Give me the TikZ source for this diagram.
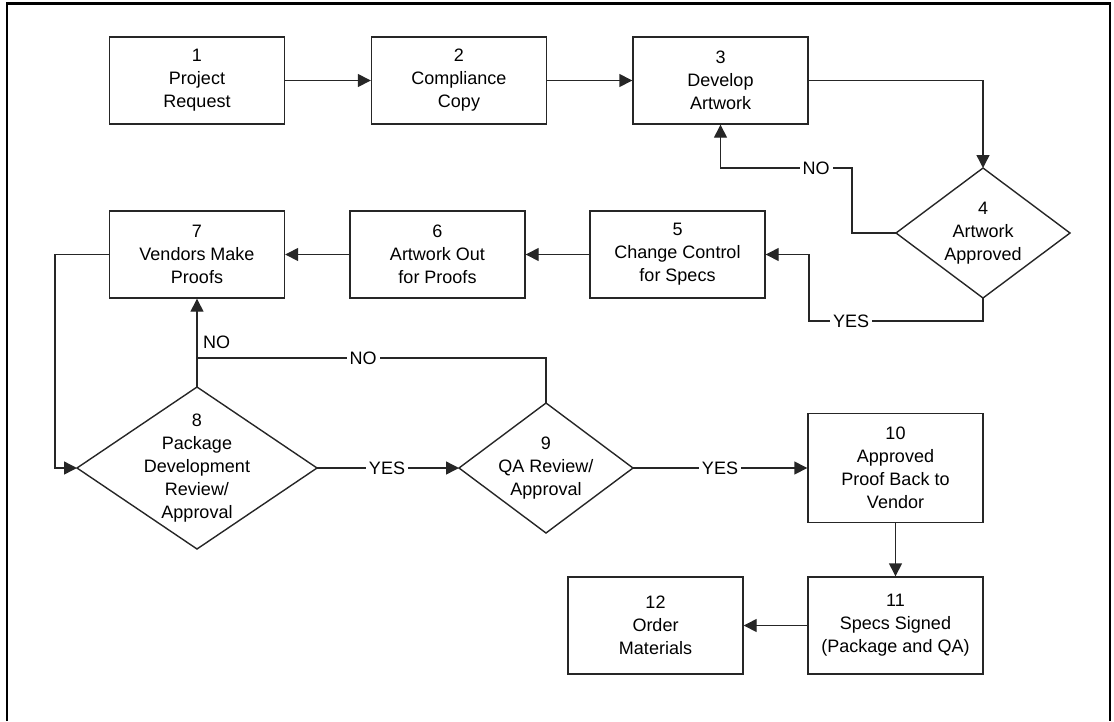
\documentclass[tikz,border=0pt]{standalone}
\usepackage{fontspec}
\setmainfont{Liberation Sans}
\usetikzlibrary{shapes.geometric,arrows.meta}
\begin{document}
\begin{tikzpicture}[x=1pt,y=-1pt,
  font=\fontsize{18}{23}\selectfont,
  every node/.style={text=black},
  stepbox/.style={draw=black!85, line width=1.4pt, rectangle, minimum width=175pt, inner sep=0pt, align=center},
  decision/.style={draw=black!85, line width=1.4pt, shape=diamond, inner sep=0pt, outer sep=0pt},
  conn/.style={draw=black!85, line width=1.4pt},
  arr/.style={conn, -{Triangle[length=13pt,width=13pt]}},
  lbl/.style={fill=white, inner sep=3pt}
]
\useasboundingbox (0,0) rectangle (1114,721);
% outer frame (open at the bottom)
\draw[line width=2.8pt, black] (7,721) -- (7,3.3) -- (1110,3.3) -- (1110,721);

% process boxes
\node[stepbox, minimum height=87pt] (b1) at (197,80.5) {1\\Project\\Request};
\node[stepbox, minimum height=87pt] (b2) at (459,80.5) {2\\Compliance\\Copy};
\node[stepbox, minimum height=87pt] (b3) at (720.5,80.5) {3\\Develop\\Artwork};
\node[decision, minimum width=174pt, minimum height=130pt,
      label={[align=center]center:{4\\Artwork\\Approved}}] (d4) at (983,233) {};
\node[stepbox, minimum height=87pt] (b5) at (677.5,254.5) {5\\Change Control\\for Specs};
\node[stepbox, minimum height=87pt] (b6) at (437.5,254.5) {6\\Artwork Out\\for Proofs};
\node[stepbox, minimum height=87pt] (b7) at (197,254.5) {7\\Vendors Make\\Proofs};
\node[decision, minimum width=240pt, minimum height=162pt,
      label={[align=center]center:{8\\Package\\Development\\Review/\\Approval}}] (d8) at (197,468) {};
\node[decision, minimum width=174pt, minimum height=130pt,
      label={[align=center]center:{9\\QA Review/\\Approval}}] (d9) at (546,468) {};
\node[stepbox, minimum height=109pt] (b10) at (895.5,468) {10\\Approved\\Proof Back to\\Vendor};
\node[stepbox, minimum height=97pt] (b11) at (895.5,625.5) {11\\Specs Signed\\(Package and QA)};
\node[stepbox, minimum height=97pt] (b12) at (655.5,625.5) {12\\Order\\Materials};

% helper coordinates for bends
\coordinate (c4no) at (852,168);
\coordinate (c4yes) at (809,321);
\coordinate (loopx) at (55,360);
\coordinate (j89) at (197,358);

% connectors
\draw[arr] (b1.east) -- (b2.west);
\draw[arr] (b2.east) -- (b3.west);
\draw[arr] (b3.east) -| (d4.north);
\draw[arr] (d4.west) -| (c4no) -| (b3.south);
\draw[arr] (d4.south) |- (c4yes) |- (b5.east);
\draw[arr] (b5.west) -- (b6.east);
\draw[arr] (b6.west) -- (b7.east);
\draw[arr] (b7.west) -| (loopx) |- (d8.west);
\draw[arr] (d8.north) -- (b7.south);
\draw[conn] (d9.north) |- (j89);
\draw[arr] (d8.east) -- (d9.west);
\draw[arr] (d9.east) -- (b10.west);
\draw[arr] (b10.south) -- (b11.north);
\draw[arr] (b11.west) -- (b12.east);

% connector labels
\node[lbl] (no4) at (816,168) {NO};
\node[lbl] (yes4) at (851,321) {YES};
\node[anchor=west, inner sep=0pt] (no8) at (203,342) {NO};
\node[lbl] (no9) at (363,358) {NO};
\node[lbl] (yes8) at (387,468) {YES};
\node[lbl] (yes9) at (720,468) {YES};
\end{tikzpicture}
\end{document}
